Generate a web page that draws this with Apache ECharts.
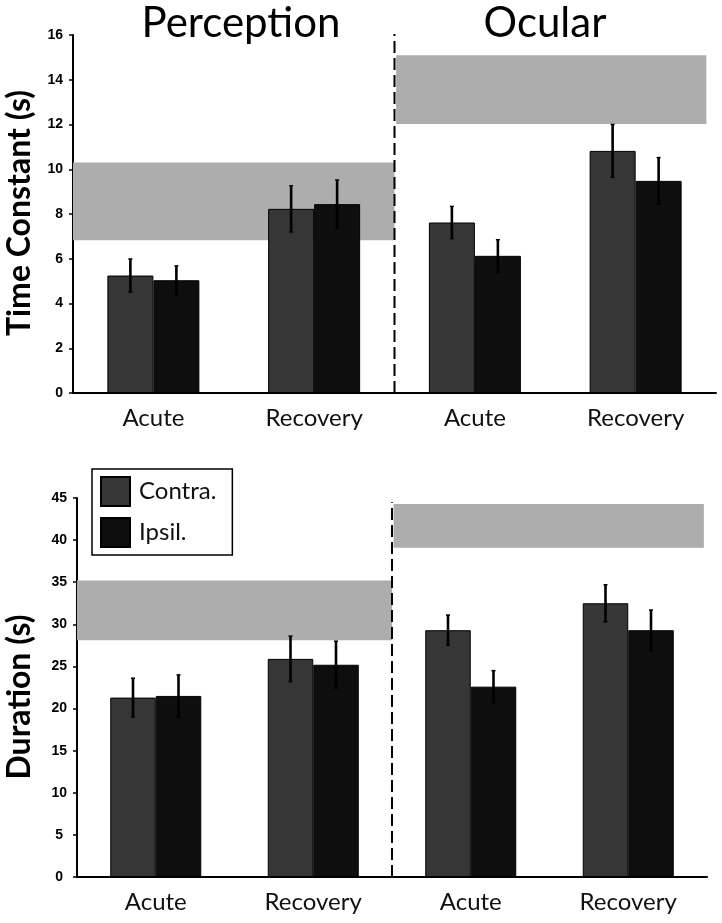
<!DOCTYPE html>
<html>
<head>
<meta charset="utf-8">
<style>
  html, body { margin: 0; padding: 0; background: #fff; }
  #chart { width: 722px; height: 923px; }
</style>
<script src="https://cdn.jsdelivr.net/npm/echarts@6/dist/echarts.min.js"></script>
</head>
<body>
<div id="chart"></div>
<script>
// condition x phase, as on the x axes
const categories = ['Perception Acute', 'Perception Recovery', 'Ocular Acute', 'Ocular Recovery'];
const phaseLabels = ['Acute', 'Recovery', 'Acute', 'Recovery'];
const groupTitles = ['Perception', 'Ocular'];
const seriesNames = ['Contra.', 'Ipsil.'];

// Time constant (s)
const tcContra = [5.25, 8.23, 7.62, 10.82];
const tcContraErr = [0.74, 1.03, 0.72, 1.18];
const tcIpsil = [5.04, 8.44, 6.13, 9.48];
const tcIpsilErr = [0.64, 1.08, 0.72, 1.04];
// normal ranges: [from category, to category, low, high]
const tcBands = [[0, 2, 6.83, 10.3], [2.01, 3.94, 12.02, 15.1]];

// Duration (s)
const durContra = [21.3, 25.9, 29.3, 32.5];
const durContraErr = [2.3, 2.7, 1.8, 2.2];
const durIpsil = [21.5, 25.2, 22.6, 29.3];
const durIpsilErr = [2.5, 2.8, 1.9, 2.4];
const durBands = [[0, 2, 28.1, 35.2], [2.01, 3.98, 39.1, 44.3]];

const contraColor = '#363636';
const ipsilColor = '#0e0e0e';
const bandColor = '#adadad';
const latin = 'Lato, "Open Sans", sans-serif';

const chart = echarts.init(document.getElementById('chart'));

function errData(vals, errs) {
  return vals.map((v, i) => [i, v - errs[i], v + errs[i]]);
}

function errSeries(name, idx, data, offset) {
  return {
    name: name,
    type: 'custom',
    xAxisIndex: idx,
    yAxisIndex: idx,
    z: 5,
    data: data,
    renderItem(params, api) {
      const lo = api.coord([api.value(0), api.value(1)]);
      const hi = api.coord([api.value(0), api.value(2)]);
      const x = lo[0] + offset;
      return {
        type: 'group',
        children: [
          {type: 'line', shape: {x1: x, y1: lo[1], x2: x, y2: hi[1]}, style: {stroke: '#000', lineWidth: 2.6}},
          {type: 'line', shape: {x1: x - 2, y1: hi[1], x2: x + 2, y2: hi[1]}, style: {stroke: '#000', lineWidth: 1.5}},
          {type: 'line', shape: {x1: x - 2, y1: lo[1], x2: x + 2, y2: lo[1]}, style: {stroke: '#000', lineWidth: 1.5}}
        ]
      };
    }
  };
}

function bandSeries(idx, bands) {
  return {
    type: 'custom',
    xAxisIndex: idx + 2,
    yAxisIndex: idx,
    z: 1,
    silent: true,
    data: bands,
    renderItem(params, api) {
      const p0 = api.coord([api.value(0), api.value(3)]);
      const p1 = api.coord([api.value(1), api.value(2)]);
      return {type: 'rect', shape: {x: p0[0], y: p0[1], width: p1[0] - p0[0], height: p1[1] - p0[1]}, style: {fill: bandColor}};
    }
  };
}

function dashSeries(idx, top) {
  return {
    type: 'line',
    xAxisIndex: idx + 2,
    yAxisIndex: idx,
    z: 6,
    silent: true,
    symbol: 'none',
    data: [[2, 0], [2, top]],
    lineStyle: {color: '#000', width: 2, type: [12, 5]}
  };
}

function barSeries(name, idx, data, color, width) {
  return {
    name: name,
    type: 'bar',
    xAxisIndex: idx,
    yAxisIndex: idx,
    z: 3,
    barWidth: width,
    barGap: '0%',
    data: data,
    itemStyle: {color: color, borderColor: '#000', borderWidth: 1}
  };
}

function catAxis(idx) {
  return {
    type: 'category',
    gridIndex: idx,
    data: categories,
    axisLine: {lineStyle: {color: '#000', width: 2}},
    axisTick: {show: false},
    axisLabel: {
      margin: 13,
      fontFamily: latin,
      fontSize: 24,
      color: '#111',
      formatter: (v, i) => phaseLabels[i]
    }
  };
}

function valAxis(idx, max, interval, pad) {
  return {
    type: 'value',
    gridIndex: idx,
    min: 0,
    max: max,
    interval: interval,
    axisLine: {show: true, lineStyle: {color: '#000', width: 2}},
    axisTick: {show: true, length: 4, lineStyle: {color: '#000', width: 1.5}},
    splitLine: {show: false},
    axisLabel: {
      margin: 10,
      fontFamily: '"Liberation Sans", Arial, sans-serif',
      fontWeight: 'bold',
      fontSize: 14,
      color: '#000',
      formatter: v => (pad && v < 10 ? v + ' ' : String(v))
    }
  };
}

const option = {
  backgroundColor: '#fff',
  animation: false,
  grid: [
    {left: 73, top: 35, width: 643, height: 358},
    {left: 77, top: 498, width: 630, height: 379}
  ],
  xAxis: [
    catAxis(0),
    catAxis(1),
    {type: 'value', gridIndex: 0, min: 0, max: 4, show: false},
    {type: 'value', gridIndex: 1, min: 0, max: 4, show: false}
  ],
  yAxis: [
    valAxis(0, 16, 2, false),
    valAxis(1, 45, 5, true)
  ],
  legend: {
    data: seriesNames,
    orient: 'vertical',
    left: 92,
    top: 469,
    padding: [7, 16, 7, 8],
    itemGap: 10,
    itemWidth: 29,
    itemHeight: 29,
    borderColor: '#000',
    borderWidth: 1.5,
    backgroundColor: '#fff',
    icon: 'rect',
    textStyle: {fontFamily: latin, fontSize: 24, color: '#111', padding: [0, 0, 0, 4]}
  },
  graphic: [
    {type: 'text', x: 241, y: 2, style: {text: groupTitles[0], font: '42px ' + latin, fill: '#000', textAlign: 'center', textVerticalAlign: 'top'}},
    {type: 'text', x: 545, y: 2, style: {text: groupTitles[1], font: '42px ' + latin, fill: '#000', textAlign: 'center', textVerticalAlign: 'top'}},
    {type: 'text', x: 20, y: 213, rotation: Math.PI / 2, style: {text: 'Time Constant (s)', font: 'bold 32px ' + latin, fill: '#000', textAlign: 'center', textVerticalAlign: 'middle'}},
    {type: 'text', x: 20, y: 697, rotation: Math.PI / 2, style: {text: 'Duration (s)', font: 'bold 32px ' + latin, fill: '#000', textAlign: 'center', textVerticalAlign: 'middle'}}
  ],
  series: [
    bandSeries(0, tcBands),
    bandSeries(1, durBands),
    dashSeries(0, 16.15),
    dashSeries(1, 44.5),
    barSeries(seriesNames[0], 0, tcContra, contraColor, 46),
    barSeries(seriesNames[1], 0, tcIpsil, ipsilColor, 46),
    barSeries(seriesNames[0], 1, durContra, contraColor, 45.5),
    barSeries(seriesNames[1], 1, durIpsil, ipsilColor, 45.5),
    errSeries('tc contra err', 0, errData(tcContra, tcContraErr), -23),
    errSeries('tc ipsil err', 0, errData(tcIpsil, tcIpsilErr), 23),
    errSeries('dur contra err', 1, errData(durContra, durContraErr), -22.75),
    errSeries('dur ipsil err', 1, errData(durIpsil, durIpsilErr), 22.75)
  ]
};

chart.setOption(option);
</script>
</body>
</html>
